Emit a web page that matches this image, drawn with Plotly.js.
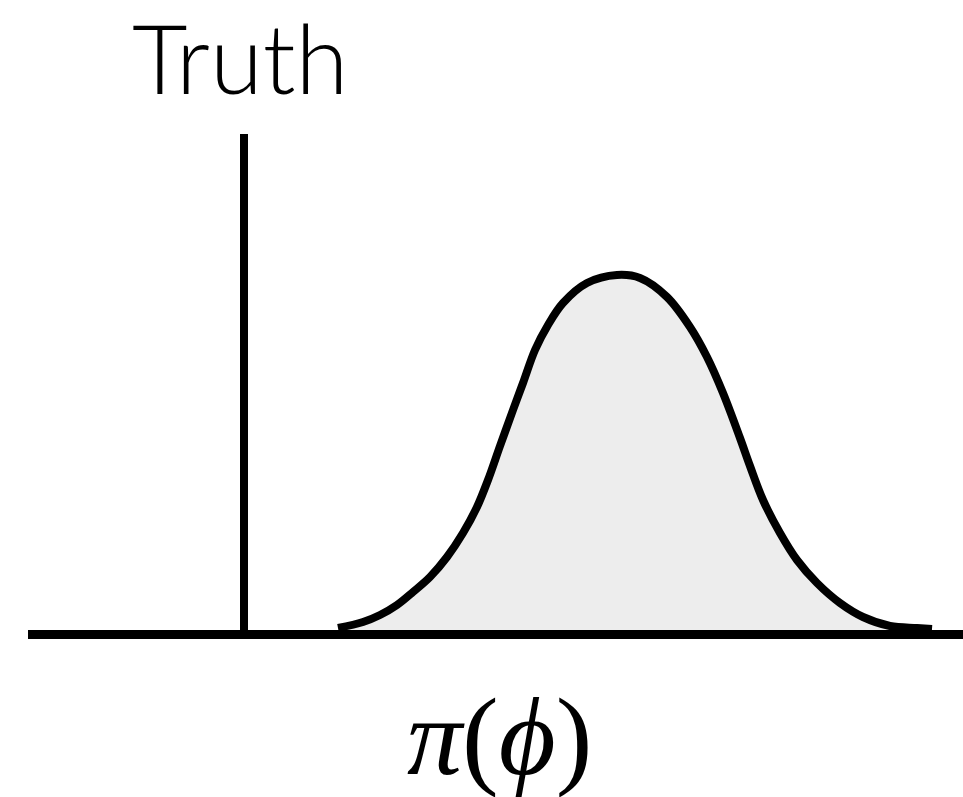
<!DOCTYPE html>
<html>
<head>
<meta charset="utf-8">
<script src="https://cdn.plot.ly/plotly-3.0.1.min.js"></script>
<style>html,body{margin:0;padding:0;background:#fff;}#chart{width:963px;height:797px;}</style>
</head>
<body>
<div id="chart"></div>
<script>
// Prior density pi(phi) (arbitrary units)
const phiValues = [3.38, 3.63, 3.80, 3.97, 4.13, 4.30, 4.47, 4.63, 4.77, 4.88, 5.00, 5.13, 5.23, 5.35, 5.48, 5.63, 5.87, 6.17, 6.40, 6.67, 6.90, 7.07, 7.23, 7.40, 7.50, 7.63, 7.80, 7.97, 8.17, 8.40, 8.63, 8.90, 9.17, 9.32];
const densityValues = [0.065, 0.125, 0.195, 0.295, 0.425, 0.575, 0.775, 1.015, 1.275, 1.545, 1.885, 2.245, 2.515, 2.845, 3.095, 3.315, 3.515, 3.595, 3.565, 3.375, 3.075, 2.775, 2.415, 1.965, 1.685, 1.345, 1.015, 0.745, 0.515, 0.315, 0.175, 0.085, 0.065, 0.055];
// True value of phi and the height of its marker line
const truthValue = 2.44;
const truthHeight = 5.005;
const truthLabel = 'Truth';
const axisLabel = '<i>π</i>(<i>ϕ</i>)';

const traces = [{
  type: 'scatter',
  mode: 'lines',
  x: phiValues,
  y: densityValues,
  fill: 'tozeroy',
  fillcolor: '#ededed',
  line: {color: '#000', width: 8, shape: 'spline', smoothing: 1},
  hoverinfo: 'skip',
  showlegend: false
}];

const layout = {
  width: 963,
  height: 797,
  margin: {l: 0, r: 0, t: 0, b: 0, pad: 0},
  paper_bgcolor: '#fff',
  plot_bgcolor: '#fff',
  showlegend: false,
  xaxis: {range: [0, 9.63], visible: false, fixedrange: true},
  yaxis: {range: [-1.625, 6.345], visible: false, fixedrange: true},
  shapes: [
    {type: 'line', xref: 'x', yref: 'y', x0: 0.28, x1: 9.7, y0: 0, y1: 0,
     line: {color: '#000', width: 9}, layer: 'above'},
    {type: 'line', xref: 'x', yref: 'y', x0: truthValue, x1: truthValue, y0: 0, y1: truthHeight,
     line: {color: '#000', width: 8}, layer: 'above'}
  ],
  annotations: [
    {text: truthLabel, xref: 'x', yref: 'y', x: truthValue - 0.04, y: 5.78,
     xanchor: 'center', yanchor: 'middle', showarrow: false,
     font: {family: 'Lato, "Open Sans", sans-serif', size: 96, weight: 300, color: '#000'}},
    {text: axisLabel, xref: 'x', yref: 'y', x: 4.99, y: -1.02,
     xanchor: 'center', yanchor: 'middle', showarrow: false,
     font: {family: '"Liberation Serif", "DejaVu Serif", serif', size: 110, color: '#000'}}
  ]
};

Plotly.newPlot('chart', traces, layout, {staticPlot: true, displayModeBar: false});
</script>
</body>
</html>
